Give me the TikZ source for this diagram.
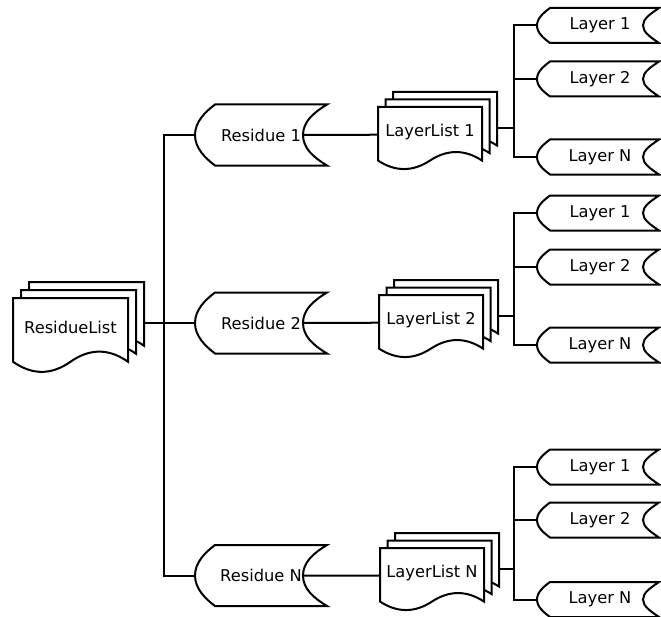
\documentclass[tikz,border=0pt]{standalone}
\usepackage{fontspec}
\setmainfont{DejaVu Sans}

\tikzset{
  outline/.style={draw=black, fill=white, line width=1.5pt, line join=miter},
  wire/.style={draw=black, line width=1.5pt},
  lbl/.style={inner sep=0pt, font=\fontsize{12.2pt}{14pt}\selectfont, text=black},
  pics/docsheet/.style n args={2}{code={
    \path[outline] (0,0) -- (#1,0) -- (#1,0.85*#2)
      .. controls (5/6*#1,0.67*#2) and (2/3*#1,0.67*#2) .. (0.5*#1,0.85*#2)
      .. controls (1/3*#1,1.03*#2) and (1/6*#1,1.03*#2) .. (0,0.85*#2) -- cycle;
  }}
}

% stack of three document sheets: name, left, top, width, height, offset, label
\newcommand{\docstack}[7]{%
  \pic at ({#2+2*#6},{#3-2*#6}) {docsheet={#4}{#5}};
  \pic at ({#2+#6},{#3-#6}) {docsheet={#4}{#5}};
  \pic at (#2,#3) {docsheet={#4}{#5}};
  \node[lbl] (#1) at ({#2+0.5*#4},{#3+0.39*#5}) {#7};
  \coordinate (#1-in) at (#2,{#3+0.44*#5});
  \coordinate (#1-out) at ({#2+#4+2*#6},{#3+0.33*#5});
}

% stored-data shape for a residue: name, centre x, centre y, label
\newcommand{\residueshape}[4]{%
  \path[outline, shift={(#2,#3)}] (-46,-30.5) -- (66,-30.5)
    .. controls (52,-22) and (42,-13) .. (42,0)
    .. controls (42,13) and (52,22) .. (66,30.5) -- (-46,30.5)
    .. controls (-56,23) and (-66,13) .. (-66,0)
    .. controls (-66,-13) and (-56,-23) .. cycle;
  \node[lbl] (#1) at (#2,#3) {#4};
  \coordinate (#1-in) at ({#2-66},#3);
  \coordinate (#1-out) at ({#2+42},#3);
}

% smaller stored-data shape for a layer: name, centre x, centre y, label
\newcommand{\layershape}[4]{%
  \path[outline, shift={(#2,#3)}] (-48,-17.5) -- (61,-17.5)
    .. controls (53,-12) and (45,-7) .. (45,0)
    .. controls (45,7) and (53,12) .. (61,17.5) -- (-48,17.5)
    .. controls (-54,13) and (-61,7.5) .. (-61,0)
    .. controls (-61,-7.5) and (-54,-13) .. cycle;
  \node[lbl] (#1) at ({#2+2},#3) {#4};
  \coordinate (#1-in) at ({#2-61},#3);
}

\begin{document}
\begin{tikzpicture}[x=0.75pt,y=-0.75pt]
\path[use as bounding box, clip] (0,0) rectangle (661,617);

% residue list and the three residues
\docstack{rl}{13}{298}{115}{75}{8}{ResidueList}
\residueshape{r1}{261}{135}{Residue 1}
\residueshape{r2}{261}{323}{Residue 2}
\residueshape{rN}{261}{575.5}{Residue N}

% layer lists
\docstack{ll1}{378}{107}{104}{63}{7.5}{LayerList 1}
\docstack{ll2}{379}{295}{104}{63}{7.5}{LayerList 2}
\docstack{llN}{380}{548}{104}{63}{7.5}{LayerList N}

% layers of each list
\layershape{l11}{598}{25.5}{Layer 1}
\layershape{l12}{598}{79}{Layer 2}
\layershape{l1N}{598}{157}{Layer N}
\layershape{l21}{598}{213}{Layer 1}
\layershape{l22}{598}{267}{Layer 2}
\layershape{l2N}{598}{345}{Layer N}
\layershape{l31}{598}{467}{Layer 1}
\layershape{l32}{598}{520}{Layer 2}
\layershape{l3N}{598}{599.5}{Layer N}

% bus lines
\coordinate (trunk) at (164,0);
\coordinate (bus) at (513.5,0);

\draw[wire] (rl-out) -- (rl-out -| trunk);
\draw[wire] (r1-in) -- (r1-in -| trunk) -- (rN-in -| trunk) -- (rN-in);
\draw[wire] (r2-in) -- (r2-in -| trunk);

\draw[wire] (r1-out) -- (ll1-in);
\draw[wire] (r2-out) -- (ll2-in);
\draw[wire] (rN-out) -- (llN-in);

\draw[wire] (ll1-out) -- (ll1-out -| bus);
\draw[wire] (l11-in) -- (l11-in -| bus) -- (l1N-in -| bus) -- (l1N-in);
\draw[wire] (l12-in) -- (l12-in -| bus);

\draw[wire] (ll2-out) -- (ll2-out -| bus);
\draw[wire] (l21-in) -- (l21-in -| bus) -- (l2N-in -| bus) -- (l2N-in);
\draw[wire] (l22-in) -- (l22-in -| bus);

\draw[wire] (llN-out) -- (llN-out -| bus);
\draw[wire] (l31-in) -- (l31-in -| bus) -- (l3N-in -| bus) -- (l3N-in);
\draw[wire] (l32-in) -- (l32-in -| bus);
\end{tikzpicture}
\end{document}
